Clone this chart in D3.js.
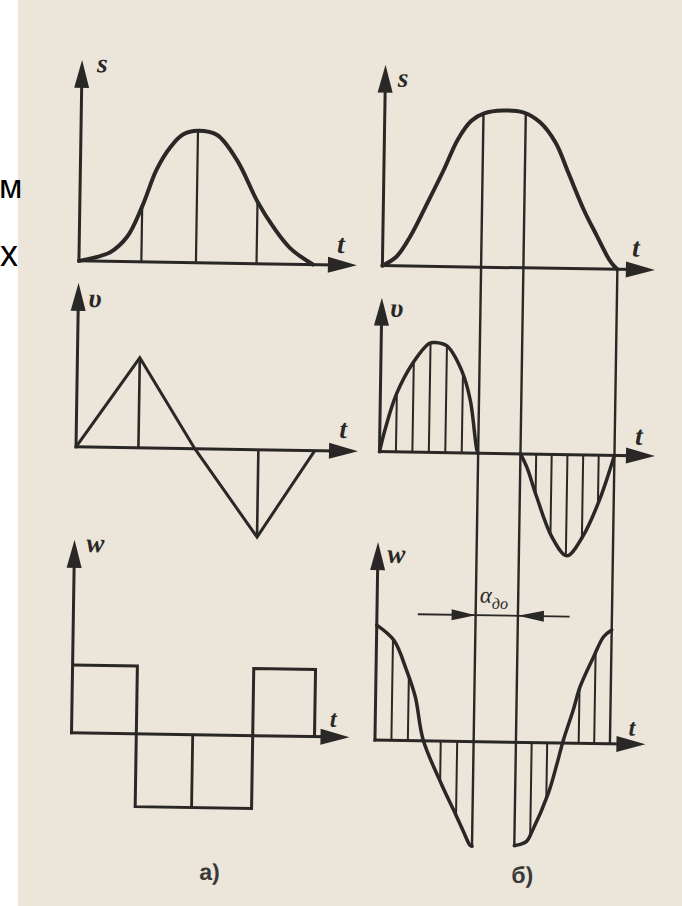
<!DOCTYPE html>
<html>
<head>
<meta charset="utf-8">
<script src="https://cdn.jsdelivr.net/npm/d3@7"></script>
<style>
  html, body { margin: 0; padding: 0; background: #fff; }
  svg { display: block; }
</style>
</head>
<body>
<svg id="fig" width="682" height="906"></svg>
<script>
// ---------- а) law with constant acceleration steps (t in quarter-cycle units) ----------
const sLeftT = [0, 0.52, 0.8, 1.04, 1.27, 1.49, 1.7, 1.95, 2.27, 2.61, 2.96, 3.23, 3.52, 3.9];
const sLeftS = [0, 0.07, 0.19, 0.42, 0.70, 0.87, 0.97, 1.0, 0.97, 0.78, 0.47, 0.28, 0.12, 0];
const sLeftMarks = [1.04, 1.95, 2.96];
const sLeftMarkS = [0.42, 1.0, 0.47];

const vLeftT = [0, 1.04, 1.98, 3.04, 3.98];
const vLeftV = [0, 1.0, 0, -0.97, 0];
const vLeftMarks = [1.04, 3.04];
const vLeftMarkV = [1.0, -0.97];

const wLeftEdges = [0, 1.08, 3.02, 4.05];
const wLeftLevels = [0.97, -1.04, 0.96];
const wLeftMid = 2.02;

// ---------- б) sinusoidal law (t in percent of the cycle) ----------
const sRightT = [0, 6.0, 11.7, 18.6, 25.6, 31.2, 36.8, 42.2, 50.3, 58.9, 66.0, 72.9, 78.5, 85.5, 91.1, 96.5, 98.6, 100];
const sRightS = [0, 0.06, 0.19, 0.40, 0.62, 0.81, 0.93, 0.98, 1.0, 0.99, 0.93, 0.80, 0.61, 0.37, 0.21, 0.06, 0.02, 0];

const vRiseT = [0, 2.2, 6.9, 13.9, 20.4, 22.9, 28.0, 34.4, 38.3, 41.4, 42];
const vRiseV = [0, 0.20, 0.53, 0.82, 0.99, 1.0, 0.97, 0.75, 0.48, 0.03, 0];
const vReturnT = [60, 62.8, 67.2, 73.9, 80.4, 87.1, 93.9, 100];
const vReturnV = [0, -0.12, -0.39, -0.75, -0.92, -0.74, -0.41, 0];

const wRiseT = [0, 7.4, 13.0, 16.9, 20.5, 28.5, 34.0, 38.2, 41.1, 42];
const wRiseW = [1.0, 0.87, 0.61, 0.38, 0.01, -0.37, -0.60, -0.78, -0.90, -0.91];
const wReturnT = [60, 62, 65.2, 67.3, 74.1, 77.5, 80.1, 84.2, 86.9, 92.4, 96.6, 100];
const wReturnW = [-0.90, -0.89, -0.86, -0.78, -0.44, -0.19, 0.02, 0.29, 0.49, 0.75, 0.93, 0.99];

const hatchT = [7, 14, 21, 28, 35, 66.7, 73.3, 80, 86.7, 93.3];
const dwellEdges = [42, 60];
const dwellTopS = [0.98, 0.99];
const dwellBottomW = [-0.91, -0.90];
const returnEnd = 100;

const W = 682, H = 906;
const ink = "#2a2826";
const svg = d3.select("#fig");

svg.append("rect").attr("width", W).attr("height", H).attr("fill", "#ebe5da");

const fig = svg.append("g").attr("transform", "rotate(0.9,340,450)");

// ---------- scales ----------
const xL = d3.scaleLinear([0, 4], [76, 316]);
const xR = d3.scaleLinear([0, 100], [379.5, 614.5]);

const ySL = d3.scaleLinear([0, 1], [265, 133]);
const yVL = d3.scaleLinear([-1, 1], [541, 361]);
const yWL = d3.scaleLinear([-1, 1], [807, 667]);

const ySR = d3.scaleLinear([0, 1], [265, 108]);
const yVR = d3.scaleLinear([-1, 1], [561, 341]);
const yWR = d3.scaleLinear([-1, 1], [854.5, 624.5]);

const smooth = d3.curveCatmullRom.alpha(0.5);

// ---------- helpers ----------
function arrowUp(g, x, y) {
  g.append("path")
    .attr("d", `M${x},${y} L${x - 7.5},${y + 28} L${x + 7.5},${y + 28} Z`)
    .attr("fill", ink);
}
function arrowRight(g, x, y) {
  g.append("path")
    .attr("d", `M${x},${y} L${x - 29},${y - 8} L${x - 29},${y + 8} Z`)
    .attr("fill", ink);
}
function axes(g, x, y, tipY, tipX) {
  const ox = x(0), oy = y(0);
  g.append("line").attr("x1", ox).attr("y1", oy + 1.5).attr("x2", ox).attr("y2", tipY + 20)
    .attr("stroke", ink).attr("stroke-width", 3);
  arrowUp(g, ox, tipY);
  g.append("line").attr("x1", ox - 1.5).attr("y1", oy).attr("x2", tipX - 20).attr("y2", oy)
    .attr("stroke", ink).attr("stroke-width", 3);
  arrowRight(g, tipX, oy);
}
function label(g, txt, x, y, size) {
  g.append("text").attr("x", x).attr("y", y)
    .attr("font-family", "Liberation Serif, serif")
    .attr("font-style", "italic")
    .attr("font-weight", "bold")
    .attr("font-size", size || 27)
    .attr("fill", ink)
    .text(txt);
}
function curve(g, xs, ys, x, y, w) {
  const pts = xs.map((t, i) => [t, ys[i]]);
  g.append("path")
    .attr("d", d3.line().x(d => x(d[0])).y(d => y(d[1])).curve(smooth)(pts))
    .attr("fill", "none").attr("stroke", ink).attr("stroke-width", w || 3.5)
    .attr("stroke-linejoin", "round").attr("stroke-linecap", "round");
}
function vline(g, xp, y1, y2, w) {
  g.append("line").attr("x1", xp).attr("x2", xp).attr("y1", y1).attr("y2", y2)
    .attr("stroke", ink).attr("stroke-width", w || 2);
}

// ---------- а) displacement ----------
const gSL = fig.append("g");
sLeftMarks.forEach((t, i) => vline(gSL, xL(t), ySL(0), ySL(sLeftMarkS[i]), 2.2));
axes(gSL, xL, ySL, 64, 354);
curve(gSL, sLeftT, sLeftS, xL, ySL, 4);
label(gSL, "s", 91, 76);
label(gSL, "t", 334, 253);

// ---------- а) velocity ----------
const gVL = fig.append("g");
vLeftMarks.forEach((t, i) => vline(gVL, xL(t), yVL(0), yVL(vLeftMarkV[i]), 2.6));
axes(gVL, xL, yVL, 287, 358);
gVL.append("path")
  .attr("d", d3.line().x((d, i) => xL(vLeftT[i])).y((d, i) => yVL(vLeftV[i]))(vLeftT))
  .attr("fill", "none").attr("stroke", ink).attr("stroke-width", 3)
  .attr("stroke-linejoin", "miter");
label(gVL, "υ", 86, 311);
label(gVL, "t", 339, 438);

// ---------- а) acceleration ----------
const gWL = fig.append("g");
axes(gWL, xL, yWL, 544, 354);
const stepPts = [];
wLeftLevels.forEach((lv, i) => { stepPts.push([wLeftEdges[i], lv]); });
stepPts.push([wLeftEdges[wLeftEdges.length - 1], wLeftLevels[wLeftLevels.length - 1]]);
stepPts.push([wLeftEdges[wLeftEdges.length - 1], 0]);
gWL.append("path")
  .attr("d", d3.line().x(d => xL(d[0])).y(d => yWL(d[1])).curve(d3.curveStepAfter)(stepPts))
  .attr("fill", "none").attr("stroke", ink).attr("stroke-width", 3);
vline(gWL, xL(wLeftMid), yWL(0), yWL(wLeftLevels[1]), 2.8);
label(gWL, "w", 88, 556);
label(gWL, "t", 334, 727, 24);

// ---------- б) long dividers ----------
const gDiv = fig.append("g");
dwellEdges.forEach((t, i) => vline(gDiv, xR(t), ySR(dwellTopS[i]), yWR(dwellBottomW[i]), 2.4));
vline(gDiv, xR(returnEnd), ySR(0), yWR(0), 2.4);

// ---------- б) displacement ----------
const gSR = fig.append("g");
axes(gSR, xR, ySR, 64, 652);
curve(gSR, sRightT, sRightS, xR, ySR, 4);
label(gSR, "s", 392, 86);
label(gSR, "t", 629, 252);

// ---------- б) velocity ----------
const defs = svg.append("defs");
function clipArea(id, parts, x, y) {
  const cp = defs.append("clipPath").attr("id", id).attr("clipPathUnits", "userSpaceOnUse");
  parts.forEach(([ts, vs]) => {
    const pts = ts.map((t, i) => [t, vs[i]]);
    cp.append("path").attr("d",
      d3.area().x(d => x(d[0])).y0(y(0)).y1(d => y(d[1])).curve(smooth)(pts));
  });
}
const gVR = fig.append("g");
clipArea("clipV", [[vRiseT, vRiseV], [vReturnT, vReturnV]], xR, yVR);
gVR.append("g").attr("clip-path", "url(#clipV)")
  .selectAll("line").data(hatchT).join("line")
  .attr("x1", d => xR(d)).attr("x2", d => xR(d))
  .attr("y1", yVR(1.3)).attr("y2", yVR(-1.3))
  .attr("stroke", ink).attr("stroke-width", 2);
axes(gVR, xR, yVR, 297, 655);
curve(gVR, vRiseT, vRiseV, xR, yVR, 3.5);
curve(gVR, vReturnT, vReturnV, xR, yVR, 3.5);
label(gVR, "υ", 388, 316);
label(gVR, "t", 635, 440);

// ---------- б) acceleration ----------
const gWR = fig.append("g");
clipArea("clipW", [[wRiseT, wRiseW], [wReturnT, wReturnW]], xR, yWR);
gWR.append("g").attr("clip-path", "url(#clipW)")
  .selectAll("line").data(hatchT).join("line")
  .attr("x1", d => xR(d)).attr("x2", d => xR(d))
  .attr("y1", yWR(1.3)).attr("y2", yWR(-1.3))
  .attr("stroke", ink).attr("stroke-width", 2);
axes(gWR, xR, yWR, 541.5, 650);
curve(gWR, wRiseT, wRiseW, xR, yWR, 3.5);
curve(gWR, wReturnT, wReturnW, xR, yWR, 3.5);
label(gWR, "w", 389, 562);
label(gWR, "t", 633, 731, 24);

// dwell angle dimension
const dimY = yWR(1.1);
const gDim = fig.append("g");
gDim.append("line").attr("x1", xR(17.4)).attr("x2", xR(82)).attr("y1", dimY).attr("y2", dimY)
  .attr("stroke", ink).attr("stroke-width", 1.8);
gDim.append("path")
  .attr("d", `M${xR(dwellEdges[0])},${dimY} L${xR(dwellEdges[0]) - 24},${dimY - 5.5} L${xR(dwellEdges[0]) - 24},${dimY + 5.5} Z`)
  .attr("fill", ink);
gDim.append("path")
  .attr("d", `M${xR(dwellEdges[1])},${dimY} L${xR(dwellEdges[1]) + 26},${dimY - 5.5} L${xR(dwellEdges[1]) + 26},${dimY + 5.5} Z`)
  .attr("fill", ink);
const dimTxt = gDim.append("text")
  .attr("x", xR(dwellEdges[0]) + 4).attr("y", yWR(1.21))
  .attr("font-family", "Liberation Serif, serif").attr("font-style", "italic")
  .attr("font-size", 23).attr("fill", ink);
dimTxt.append("tspan").text("α");
dimTxt.append("tspan").attr("font-size", 16).attr("dy", 6).text("до");

// panel captions
fig.append("text").attr("x", 206).attr("y", 882)
  .attr("font-family", "Liberation Sans, Arial, sans-serif").attr("font-size", 23)
  .attr("font-weight", "bold").attr("fill", "#3a3836").text("а)");
fig.append("text").attr("x", 518).attr("y", 880)
  .attr("font-family", "Liberation Sans, Arial, sans-serif").attr("font-size", 23)
  .attr("font-weight", "bold").attr("fill", "#3a3836").text("б)");

// white margin strip with letters from the neighbouring column
svg.append("rect").attr("x", 0).attr("y", 0).attr("width", 18).attr("height", H).attr("fill", "#fff");
svg.append("text").attr("x", -1).attr("y", 198)
  .attr("font-family", "Liberation Sans, Arial, sans-serif").attr("font-size", 34)
  .attr("fill", "#000").text("м");
svg.append("text").attr("x", 0).attr("y", 266)
  .attr("font-family", "Liberation Sans, Arial, sans-serif").attr("font-size", 36)
  .attr("fill", "#000").text("х");
</script>
</body>
</html>
